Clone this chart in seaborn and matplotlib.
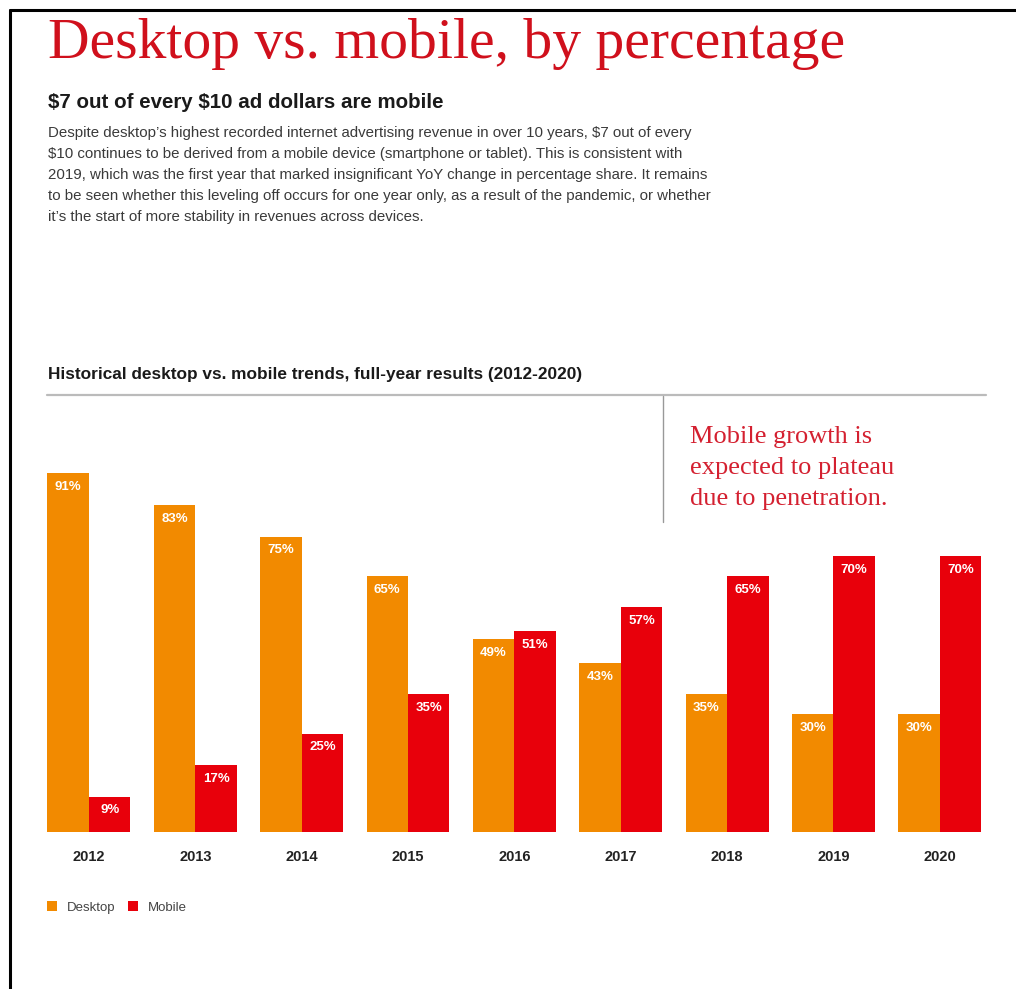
import matplotlib
matplotlib.use("Agg")
import matplotlib.pyplot as plt
from matplotlib.lines import Line2D
from matplotlib.patches import Patch
import pandas as pd
import seaborn as sns

# Full-year share of internet ad revenue by device (%)
years = ["2012", "2013", "2014", "2015", "2016", "2017", "2018", "2019", "2020"]
desktop = [91, 83, 75, 65, 49, 43, 35, 30, 30]
mobile = [9, 17, 25, 35, 51, 57, 65, 70, 70]
devices = ["Desktop", "Mobile"]
palette = {"Desktop": "#F28A00", "Mobile": "#E8000B"}

df = pd.DataFrame({
    "year": years * 2,
    "device": ["Desktop"] * len(years) + ["Mobile"] * len(years),
    "share": desktop + mobile,
})

sns.set_theme(style="white")
plt.rcParams["font.family"] = ["Liberation Sans", "DejaVu Sans"]
plt.rcParams["text.parse_math"] = False

fig = plt.figure(figsize=(10.16, 9.89), dpi=100)
ax = fig.add_axes([0.0352, 0.1587, 0.9421, 0.3984])

sns.barplot(data=df, x="year", y="share", hue="device", order=years,
            hue_order=devices, palette=palette, width=0.78, saturation=1,
            linewidth=0, ax=ax, legend=False)

ax.set_xlim(-0.5, len(years) - 0.5)
ax.set_ylim(0, 100)
ax.set_xlabel("")
ax.set_ylabel("")
ax.set_yticks([])
for s in ax.spines.values():
    s.set_visible(False)
ax.tick_params(axis="x", length=0, pad=13)
for lbl in ax.get_xticklabels():
    lbl.set_fontweight("bold")
    lbl.set_fontsize(10.5)
    lbl.set_color("#222222")

# value labels inside the top of every bar
for container in ax.containers:
    for bar in container:
        h = bar.get_height()
        ax.annotate(f"{h:.0f}%", (bar.get_x() + bar.get_width() / 2, h),
                    xytext=(0, -10), textcoords="offset points",
                    ha="center", va="center", color="white",
                    fontsize=9.5, fontweight="bold")

# legend below the chart
handles = [Patch(facecolor=palette[d], edgecolor="none", label=d) for d in devices]
fig.legend(handles=handles, loc="center left", bbox_to_anchor=(0.035, 0.0825),
           ncol=2, frameon=False, fontsize=9.5, handlelength=0.75,
           handleheight=0.75, handletextpad=0.7, columnspacing=1.0,
           labelcolor="#444444")

# header texts
fig.text(0.047, 0.941, "Desktop vs. mobile, by percentage",
         family="Liberation Serif", fontsize=41.5, color="#D0101C", va="baseline")
fig.text(0.047, 0.891, "$7 out of every $10 ad dollars are mobile",
         fontsize=14.8, fontweight="bold", color="#1a1a1a", va="baseline")
body = ("Despite desktop\u2019s highest recorded internet advertising revenue in over 10 years, $7 out of every\n"
        "$10 continues to be derived from a mobile device (smartphone or tablet). This is consistent with\n"
        "2019, which was the first year that marked insignificant YoY change in percentage share. It remains\n"
        "to be seen whether this leveling off occurs for one year only, as a result of the pandemic, or whether\n"
        "it\u2019s the start of more stability in revenues across devices.")
fig.text(0.047, 0.873, body, fontsize=10.8, color="#3a3a3a", va="top",
         linespacing=1.65)
fig.text(0.047, 0.617, "Historical desktop vs. mobile trends, full-year results (2012-2020)",
         fontsize=12.4, fontweight="bold", color="#1a1a1a", va="baseline")

# divider rules
fig.add_artist(Line2D([0.046, 0.970], [0.6006, 0.6006], color="#BBBBBB", lw=1.6))
fig.add_artist(Line2D([0.6525, 0.6525], [0.6000, 0.4722], color="#999999", lw=1.0))

# callout
fig.text(0.679, 0.569, "Mobile growth is\nexpected to plateau\ndue to penetration.",
         family="Liberation Serif", fontsize=19, color="#D42030", va="top",
         linespacing=1.53)

# page frame (top and left edges)
fig.add_artist(Line2D([0.0098, 1.0], [0.9894, 0.9894], color="black", lw=2.2))
fig.add_artist(Line2D([0.0098, 0.0098], [0.0, 0.9894], color="black", lw=2.2))

fig.savefig("out.png", dpi=100)
